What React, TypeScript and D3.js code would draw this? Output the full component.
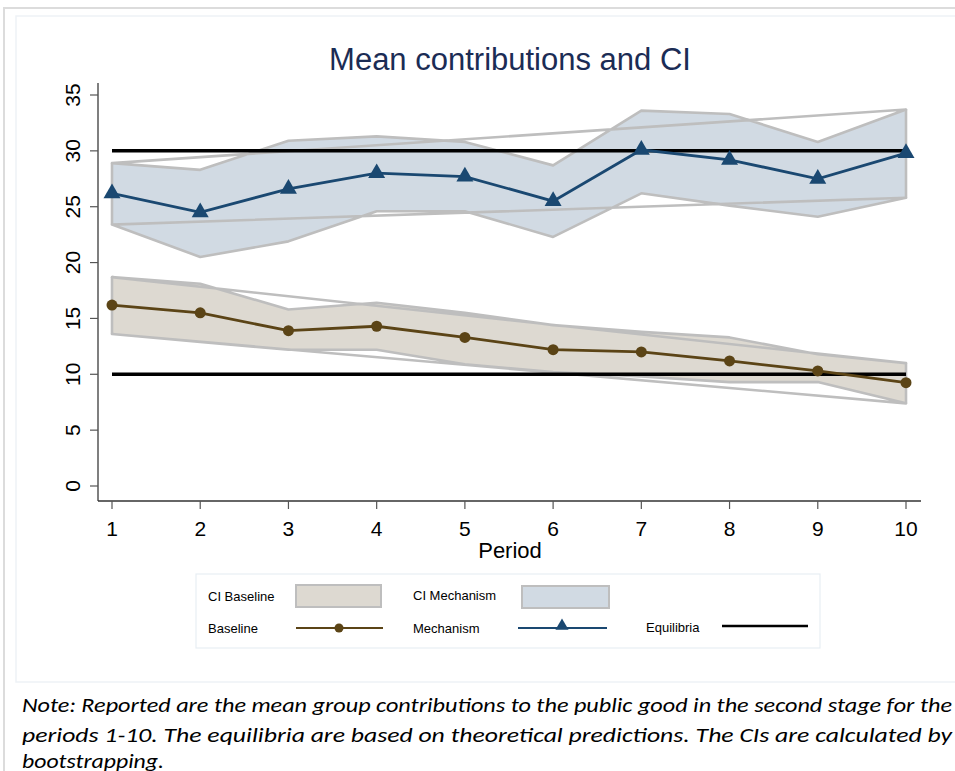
import React from "react";
import * as d3 from "d3";

const periods = [1, 2, 3, 4, 5, 6, 7, 8, 9, 10];
const baselineMean = [16.2, 15.5, 13.9, 14.3, 13.3, 12.2, 12.0, 11.2, 10.3, 9.25];
const baselineUpper = [18.7, 18.1, 15.8, 16.4, 15.5, 14.4, 13.8, 13.3, 11.8, 11.0];
const baselineLower = [13.6, 12.9, 12.2, 12.2, 10.9, 10.2, 9.8, 9.3, 9.3, 7.4];
const mechMean = [26.2, 24.5, 26.6, 28.0, 27.7, 25.5, 30.1, 29.2, 27.5, 29.8];
const mechUpper = [28.9, 28.3, 30.9, 31.3, 30.8, 28.7, 33.6, 33.3, 30.8, 33.7];
const mechLower = [23.4, 20.5, 21.9, 24.6, 24.6, 22.3, 26.2, 25.1, 24.1, 25.8];
const equilibria = [30, 10];
const yTicks = [0, 5, 10, 15, 20, 25, 30, 35];
const noteLines = [
  "Note: Reported are the mean group contributions to the public good in the second stage for the",
  "periods 1-10. The equilibria are based on theoretical predictions. The CIs are calculated by",
  "bootstrapping.",
];

const C = {
  mechLine: "#1a4871",
  mechFill: "#d1dae3",
  baseLine: "#5b4416",
  baseFill: "#ddd9d1",
  outline: "#bebebe",
  title: "#1b2c55",
};

const FONT = "'Liberation Sans', Arial, sans-serif";

export default function App() {
  const x = d3.scaleLinear().domain([1, 10]).range([112, 906]);
  const y = d3.scaleLinear().domain([0, 35]).range([486, 95]);

  const bandArea = (up: number[], lo: number[]) =>
    d3
      .area<number>()
      .x((_, i) => x(periods[i]))
      .y0((_, i) => y(lo[i]))
      .y1((d) => y(d))(up) || "";
  const line = d3
    .line<number>()
    .x((_, i) => x(periods[i]))
    .y((d) => y(d));
  const closedLine = (v: number[]) => (line(v) || "") + "Z";

  const triangle = d3.symbol().type(d3.symbolTriangle).size(125)() || "";

  const band = (up: number[], lo: number[], fill: string) => (
    <g>
      <path d={bandArea(up, lo)} fill={fill} stroke="none" />
      <path d={closedLine(up)} fill="none" stroke={C.outline} strokeWidth={2.6} strokeLinejoin="round" />
      <path d={closedLine(lo)} fill="none" stroke={C.outline} strokeWidth={2.6} strokeLinejoin="round" />
      <line x1={x(1)} x2={x(1)} y1={y(up[0])} y2={y(lo[0])} stroke={C.outline} strokeWidth={2.6} />
      <line x1={x(10)} x2={x(10)} y1={y(up[9])} y2={y(lo[9])} stroke={C.outline} strokeWidth={2.6} />
    </g>
  );

  return (
    <svg
      width={955}
      height={771}
      style={{ position: "absolute", left: 0, top: 0, background: "#fff" }}
    >
      <rect x={4} y={8} width={1000} height={800} fill="none" stroke="#dcdcdc" strokeWidth={2} />
      <rect x={16} y={16} width={1000} height={666} fill="none" stroke="#eef2f6" strokeWidth={1.5} />

      <text x={510} y={70} textAnchor="middle" fontFamily={FONT} fontSize={31} fill={C.title}>
        Mean contributions and CI
      </text>

      {band(mechUpper, mechLower, C.mechFill)}
      {band(baselineUpper, baselineLower, C.baseFill)}

      {equilibria.map((e) => (
        <line key={e} x1={x(1)} x2={x(10)} y1={y(e)} y2={y(e)} stroke="#000" strokeWidth={3.5} />
      ))}

      <path d={line(baselineMean) || ""} fill="none" stroke={C.baseLine} strokeWidth={2.8} />
      {baselineMean.map((v, i) => (
        <circle key={i} cx={x(periods[i])} cy={y(v)} r={5.5} fill={C.baseLine} />
      ))}
      <path d={line(mechMean) || ""} fill="none" stroke={C.mechLine} strokeWidth={2.8} />
      {mechMean.map((v, i) => (
        <path key={i} d={triangle} transform={`translate(${x(periods[i])},${y(v)})`} fill={C.mechLine} />
      ))}

      <line x1={98} x2={98} y1={83} y2={501} stroke="#555" strokeWidth={1.5} />
      {yTicks.map((t) => (
        <g key={t}>
          <line x1={90} x2={98} y1={y(t)} y2={y(t)} stroke="#555" strokeWidth={1.2} />
          <text
            transform={`translate(80,${y(t)}) rotate(-90)`}
            textAnchor="middle"
            fontFamily={FONT}
            fontSize={21}
            fill="#000"
          >
            {t}
          </text>
        </g>
      ))}

      <line x1={98} x2={921} y1={501} y2={501} stroke="#333" strokeWidth={1.5} />
      {periods.map((p) => (
        <g key={p}>
          <line x1={x(p)} x2={x(p)} y1={501} y2={509} stroke="#555" strokeWidth={1.2} />
          <text x={x(p)} y={536} textAnchor="middle" fontFamily={FONT} fontSize={21} fill="#000">
            {p}
          </text>
        </g>
      ))}
      <text x={510} y={558} textAnchor="middle" fontFamily={FONT} fontSize={22} fill="#000">
        Period
      </text>

      <rect x={196} y={574} width={624} height={74} fill="#fff" stroke="#e8eef3" strokeWidth={1.2} />
      <g fontFamily={FONT} fontSize={13} fill="#000">
        <text x={208} y={601}>CI Baseline</text>
        <rect x={296} y={585} width={85} height={22} fill={C.baseFill} stroke={C.outline} strokeWidth={2} />
        <text x={413} y={600}>CI Mechanism</text>
        <rect x={522} y={586} width={87} height={22} fill={C.mechFill} stroke={C.outline} strokeWidth={2} />

        <text x={208} y={633}>Baseline</text>
        <line x1={296} x2={383} y1={628} y2={628} stroke={C.baseLine} strokeWidth={2} />
        <circle cx={339} cy={628} r={4.5} fill={C.baseLine} />
        <text x={413} y={633}>Mechanism</text>
        <line x1={518} x2={607} y1={628} y2={628} stroke={C.mechLine} strokeWidth={2} />
        <path d={d3.symbol().type(d3.symbolTriangle).size(75)() || ""} transform="translate(562,626)" fill={C.mechLine} />
        <text x={646} y={632}>Equilibria</text>
        <line x1={722} x2={808} y1={626} y2={626} stroke="#000" strokeWidth={2.5} />
      </g>

      <g fontFamily="Carlito, 'Open Sans', sans-serif" fontStyle="italic" fontSize={20} fill="#000">
        <text x={22} y={712} textLength={930} lengthAdjust="spacingAndGlyphs">{noteLines[0]}</text>
        <text x={22} y={742} textLength={930} lengthAdjust="spacingAndGlyphs">{noteLines[1]}</text>
        <text x={22} y={768} textLength={142} lengthAdjust="spacingAndGlyphs">{noteLines[2]}</text>
      </g>
    </svg>
  );
}
